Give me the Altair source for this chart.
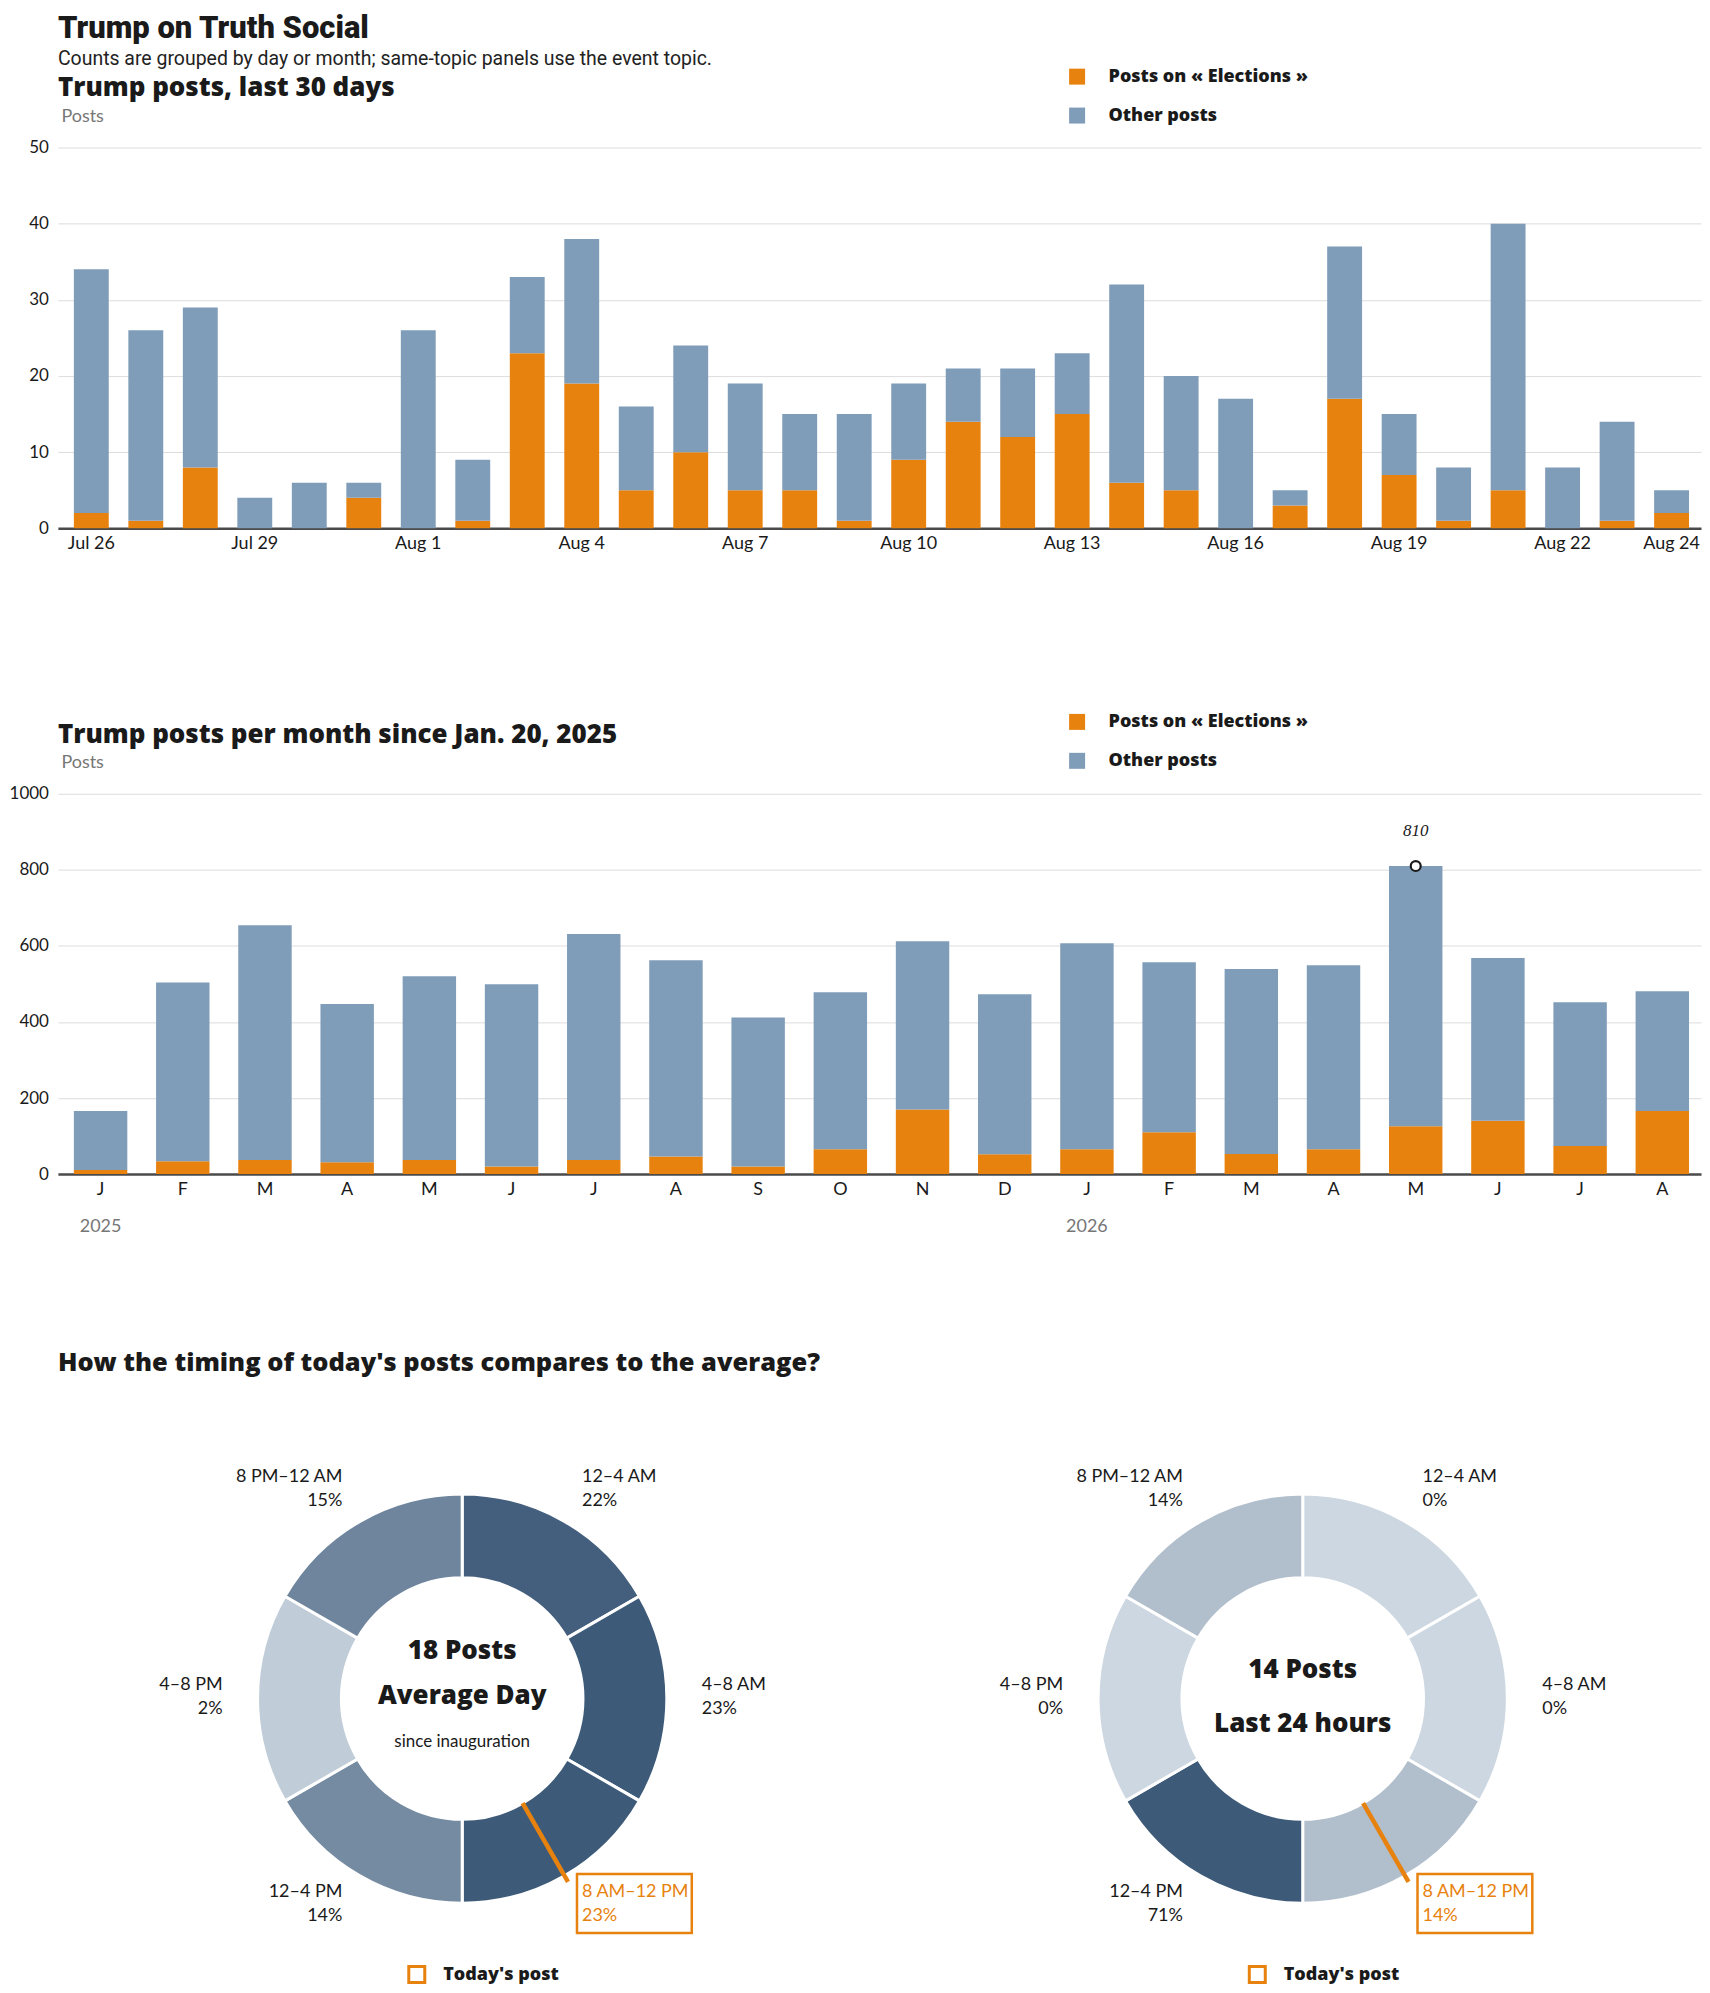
import json
import math
import altair as alt
import pandas as pd

# ---------------- data ----------------
days = ["Jul 26", "Jul 27", "Jul 28", "Jul 29", "Jul 30", "Jul 31", "Aug 1", "Aug 2",
        "Aug 3", "Aug 4", "Aug 5", "Aug 6", "Aug 7", "Aug 8", "Aug 9", "Aug 10",
        "Aug 11", "Aug 12", "Aug 13", "Aug 14", "Aug 15", "Aug 16", "Aug 17", "Aug 18",
        "Aug 19", "Aug 20", "Aug 21", "Aug 22", "Aug 23", "Aug 24"]
day_total = [34, 26, 29, 4, 6, 6, 26, 9, 33, 38, 16, 24, 19, 15, 15, 19, 21, 21, 23, 32,
             20, 17, 5, 37, 15, 8, 40, 8, 14, 5]
day_elections = [2, 1, 8, 0, 0, 4, 0, 1, 23, 19, 5, 10, 5, 5, 1, 9, 14, 12, 15, 6,
                 5, 0, 3, 17, 7, 1, 5, 0, 1, 2]
day_ticks = ["Jul 26", "Jul 29", "Aug 1", "Aug 4", "Aug 7", "Aug 10", "Aug 13",
             "Aug 16", "Aug 19", "Aug 22", "Aug 24"]

months = ["2025-01", "2025-02", "2025-03", "2025-04", "2025-05", "2025-06", "2025-07",
          "2025-08", "2025-09", "2025-10", "2025-11", "2025-12", "2026-01", "2026-02",
          "2026-03", "2026-04", "2026-05", "2026-06", "2026-07", "2026-08"]
month_letters = ["J", "F", "M", "A", "M", "J", "J", "A", "S", "O", "N", "D",
                 "J", "F", "M", "A", "M", "J", "J", "A"]
month_total = [166, 504, 654, 447, 520, 499, 631, 562, 412, 478, 612, 473,
               607, 557, 539, 549, 810, 568, 452, 481]
month_elections = [11, 34, 37, 31, 37, 20, 37, 46, 20, 65, 170, 52,
                   65, 110, 53, 65, 126, 140, 74, 166]
year_labels = {"2025-01": "2025", "2026-01": "2026"}

slots = ["12–4 AM", "4–8 AM", "8 AM–12 PM", "12–4 PM", "4–8 PM", "8 PM–12 AM"]
avg_share = [22, 23, 23, 14, 2, 15]
last24_share = [0, 0, 14, 71, 0, 14]
avg_posts = 18
last24_posts = 14
today_post_hour = 10

# ---------------- style ----------------
ORANGE = "#E8820E"
BLUE = "#7F9CB9"
INK = "#1a1a1a"
GRID = "#dddddd"
AXIS_DARK = "#4a4a4a"
GREY_TXT = "#777777"
DONUT_LIGHT = "#CDD7E1"
DONUT_DARK = "#3D5A78"
REG = "Lato"
HEAVY = "Open Sans"
HW = 800
SERIES = ["Posts on « Elections »", "Other posts"]
TODAY_KEY = "Today's post"


def long_frame(totals, elections):
    rows = []
    for i, (t, e) in enumerate(zip(totals, elections)):
        rows.append({"i": i, "series": SERIES[0], "value": e, "ord": 0, "total": t})
        rows.append({"i": i, "series": SERIES[1], "value": t - e, "ord": 1, "total": t})
    return pd.DataFrame(rows)


def series_legend(ly):
    return alt.Legend(title=None, orient="none", legendX=1012, legendY=ly,
                      direction="vertical", symbolType="square", symbolSize=256,
                      symbolStrokeWidth=0, labelFont=HEAVY, labelFontWeight=HW,
                      labelFontSize=18, labelColor=INK, labelOffset=22.5, labelLimit=400,
                      rowPadding=21)


def y_axis(values):
    return alt.Axis(values=values, format="d", title="Posts", titleAngle=0,
                    titleAlign="left", titleBaseline="alphabetic", titleX=3, titleY=-26,
                    titleColor=GREY_TXT, titleFont=REG, titleFontSize=18,
                    titleFontWeight="normal", domain=False, ticks=False, labelPadding=9.5,
                    labelFont=REG, labelFontSize=17, labelColor=INK, gridColor=GRID,
                    gridWidth=1, minExtent=48, maxExtent=48)


def x_axis(labels):
    return alt.Axis(title=None, labelExpr=f"{json.dumps(labels)}[datum.value]",
                    labelAngle=0, ticks=False, tickSize=0, labelPadding=6,
                    domainColor=AXIS_DARK, domainWidth=2.5, labelFont=REG,
                    labelFontSize=18, labelColor=INK, grid=False, labelOverlap=False)


def chart_title(text, offset):
    return alt.TitleParams(text, anchor="start", frame="group", font=HEAVY, fontSize=26,
                           fontWeight=HW, color=INK, offset=offset)


# ---------------- chart 1: last 30 days ----------------
df1 = long_frame(day_total, day_elections)
day_label_arr = [d if d in day_ticks else "" for d in days]
chart1 = alt.Chart(df1).mark_bar().encode(
    x=alt.X("i:O", scale=alt.Scale(paddingInner=0.36, paddingOuter=0.2565, align=0.571),
            axis=x_axis(day_label_arr)),
    y=alt.Y("value:Q", stack="zero", scale=alt.Scale(domain=[0, 50], nice=False),
            axis=y_axis([0, 10, 20, 30, 40, 50])),
    color=alt.Color("series:N", scale=alt.Scale(domain=SERIES, range=[ORANGE, BLUE]),
                    legend=series_legend(-80)),
    order=alt.Order("ord:Q", sort="ascending"),
).properties(width=1646, height=381.5,
             title=chart_title("Trump posts, last 30 days", -33.4))

# ---------------- chart 2: per month ----------------
df2 = long_frame(month_total, month_elections)
x2_scale = alt.Scale(paddingInner=0.35, paddingOuter=0.17, align=0.571)
y2_axis = y_axis([0, 200, 400, 600, 800, 1000])
y2_scale = alt.Scale(domain=[0, 1000], nice=False)
year_arr = [year_labels.get(m, "") for m in months]
year_axis = alt.Axis(title=None, orient="bottom", offset=38,
                     labelExpr=f"{json.dumps(year_arr)}[datum.value]", labelAngle=0,
                     domain=False, ticks=False, tickSize=0, grid=False, labelPadding=6,
                     labelFont=REG, labelFontSize=18, labelColor=GREY_TXT,
                     labelOverlap=False)

bars2 = alt.Chart(df2).mark_bar().encode(
    x=alt.X("i:O", scale=x2_scale, axis=x_axis(month_letters)),
    y=alt.Y("value:Q", stack="zero", scale=y2_scale, axis=y2_axis),
    color=alt.Color("series:N", scale=alt.Scale(domain=SERIES, range=[ORANGE, BLUE]),
                    legend=series_legend(-81)),
    order=alt.Order("ord:Q", sort="ascending"),
)
peak = alt.Chart(df2).transform_filter("datum.ord == 1").transform_joinaggregate(
    peak="max(total)").transform_filter("datum.total == datum.peak")
peak_dot = peak.mark_point(shape="circle", size=100, filled=True, fill="white", stroke=INK,
                           strokeWidth=2.2, opacity=1).encode(
    x=alt.X("i:O", axis=year_axis),
    y=alt.Y("total:Q", scale=y2_scale, axis=y2_axis),
)
peak_txt = peak.mark_text(dy=-30, baseline="alphabetic", font="Liberation Serif",
                          fontStyle="italic", fontSize=17, color=INK).encode(
    x=alt.X("i:O", axis=None),
    y=alt.Y("total:Q", scale=y2_scale, axis=y2_axis),
    text=alt.Text("total:Q"),
)
chart2 = alt.layer(bars2, peak_dot, peak_txt).resolve_axis(x="independent").properties(
    width=1646, height=381,
    title=chart_title("Trump posts per month since Jan. 20, 2025", -35))

# ---------------- donuts ----------------
XS = alt.Scale(domain=[-405, 395], nice=False, zero=False)
YS = alt.Scale(domain=[-255, 265], nice=False, zero=False, reverse=True)
TS = alt.Scale(domain=[0, 360], range=[0, 2 * math.pi])
STROKE = alt.Stroke("key:N", scale=alt.Scale(domain=[TODAY_KEY], range=[ORANGE]),
                    legend=alt.Legend(title=None, orient="none", legendX=350, legendY=522,
                                      symbolType="square", symbolSize=256,
                                      symbolStrokeWidth=3, symbolFillColor="white",
                                      symbolStrokeColor=ORANGE, labelFont=HEAVY,
                                      labelFontWeight=HW, labelFontSize=18,
                                      labelColor=INK, labelOffset=17, labelLimit=300))


def donut_panel(shares, center_lines):
    df = pd.DataFrame({"slot": slots, "pct": shares, "i": list(range(len(slots)))})
    df["label"] = [f"{s}\n{p}%" for s, p in zip(slots, shares)]
    base = alt.Chart(df).transform_joinaggregate(maxp="max(pct)").transform_calculate(
        rel="datum.maxp > 0 ? datum.pct / datum.maxp : 0",
        start="datum.i * 60",
        end="datum.i * 60 + 60",
        mid="datum.i * 60 + 30",
        cx="0",
        cy="0",
        today=f"floor({today_post_hour} / 4) == datum.i",
        key=json.dumps(TODAY_KEY),
    )
    pos = dict(x=alt.X("cx:Q", scale=XS, axis=None), y=alt.Y("cy:Q", scale=YS, axis=None))
    arcs = base.mark_arc(innerRadius=121, outerRadius=205, stroke="white",
                         strokeWidth=3).encode(
        theta=alt.Theta("start:Q", scale=TS), theta2=alt.Theta2("end"),
        color=alt.Color("rel:Q", scale=alt.Scale(domain=[0, 1],
                        range=[DONUT_LIGHT, DONUT_DARK], interpolate="rgb"), legend=None),
        **pos)
    txt_color = alt.condition("datum.today", alt.value(ORANGE), alt.value(INK))
    lab_kw = dict(baseline="middle", radius=240, dy=-14, lineBreak="\n", lineHeight=24,
                  font=REG, fontSize=18)
    labels_r = base.transform_filter("datum.mid < 180").mark_text(
        align="left", **lab_kw).encode(
        theta=alt.Theta("mid:Q", scale=TS), text="label:N", color=txt_color, **pos)
    labels_l = base.transform_filter("datum.mid >= 180").mark_text(
        align="right", **lab_kw).encode(
        theta=alt.Theta("mid:Q", scale=TS), text="label:N", color=txt_color, **pos)
    box = base.transform_filter("datum.today").transform_calculate(
        lx="240 * sin(datum.mid * PI / 180)",
        ly="-240 * cos(datum.mid * PI / 180)",
    ).transform_calculate(
        bx0="datum.lx - 5", bx1="datum.lx + 110",
        by0="datum.ly - 32", by1="datum.ly + 27",
    ).mark_rect(filled=False, strokeWidth=2.5).encode(
        x=alt.X("bx0:Q", scale=XS, axis=None), x2=alt.X2("bx1"),
        y=alt.Y("by0:Q", scale=YS, axis=None), y2=alt.Y2("by1"),
        stroke=STROKE)
    today_df = pd.DataFrame({"key": [TODAY_KEY], "hour": [today_post_hour]})
    needle = alt.Chart(today_df).transform_calculate(
        a="datum.hour / 24 * 2 * PI",
    ).transform_calculate(
        nx1="121 * sin(datum.a)", ny1="-121 * cos(datum.a)",
        nx2="212 * sin(datum.a)", ny2="-212 * cos(datum.a)",
    ).mark_rule(strokeWidth=4.5).encode(
        x=alt.X("nx1:Q", scale=XS, axis=None), x2=alt.X2("nx2"),
        y=alt.Y("ny1:Q", scale=YS, axis=None), y2=alt.Y2("ny2"),
        stroke=STROKE)
    layers = [arcs, labels_r, labels_l, box, needle]
    for text, dy, font, size, weight in center_lines:
        cdf = pd.DataFrame({"t": [text], "cx": [0], "cy": [0]})
        layers.append(alt.Chart(cdf).mark_text(
            baseline="alphabetic", dy=dy, font=font, fontSize=size, fontWeight=weight,
            color=INK).encode(text="t:N", **pos))
    return alt.layer(*layers).properties(width=800, height=520)


left = donut_panel(avg_share, [
    (f"{avg_posts} Posts", -40, HEAVY, 26, HW),
    ("Average Day", 5, HEAVY, 26, HW),
    ("since inauguration", 49, REG, 17, "normal"),
])
right = donut_panel(last24_share, [
    (f"{last24_posts} Posts", -21, HEAVY, 26, HW),
    ("Last 24 hours", 33, HEAVY, 26, HW),
])

donuts = alt.hconcat(
    left, right, spacing=40,
    title=alt.TitleParams("How the timing of today's posts compares to the average?",
                          anchor="start", frame="group", font=HEAVY, fontSize=25.5,
                          fontWeight=HW, color=INK, offset=67.6),
).resolve_scale(color="independent", stroke="independent", theta="independent",
                x="independent", y="independent").resolve_legend(stroke="independent")

lower = alt.vconcat(chart2, donuts, spacing=113.4).resolve_scale(
    color="independent", stroke="independent").resolve_legend(
    color="independent", stroke="independent")

chart = alt.vconcat(
    chart1, lower, spacing=159.4,
    title=alt.TitleParams("Trump on Truth Social",
                          subtitle="Counts are grouped by day or month; same-topic panels use the event topic.",
                          anchor="start", frame="group", font="Roboto", fontSize=31,
                          fontWeight=900, color=INK, subtitleFont="Roboto",
                          subtitleFontSize=19.5, subtitleColor="#222222",
                          subtitlePadding=4.5, offset=-2),
).resolve_scale(color="independent", stroke="independent").resolve_legend(
    color="independent", stroke="independent").properties(
    padding={"left": 0, "top": 3, "right": 0, "bottom": 0}
).configure_view(stroke="transparent")

chart.save("out.html", embed_options={"renderer": "svg", "actions": False})
